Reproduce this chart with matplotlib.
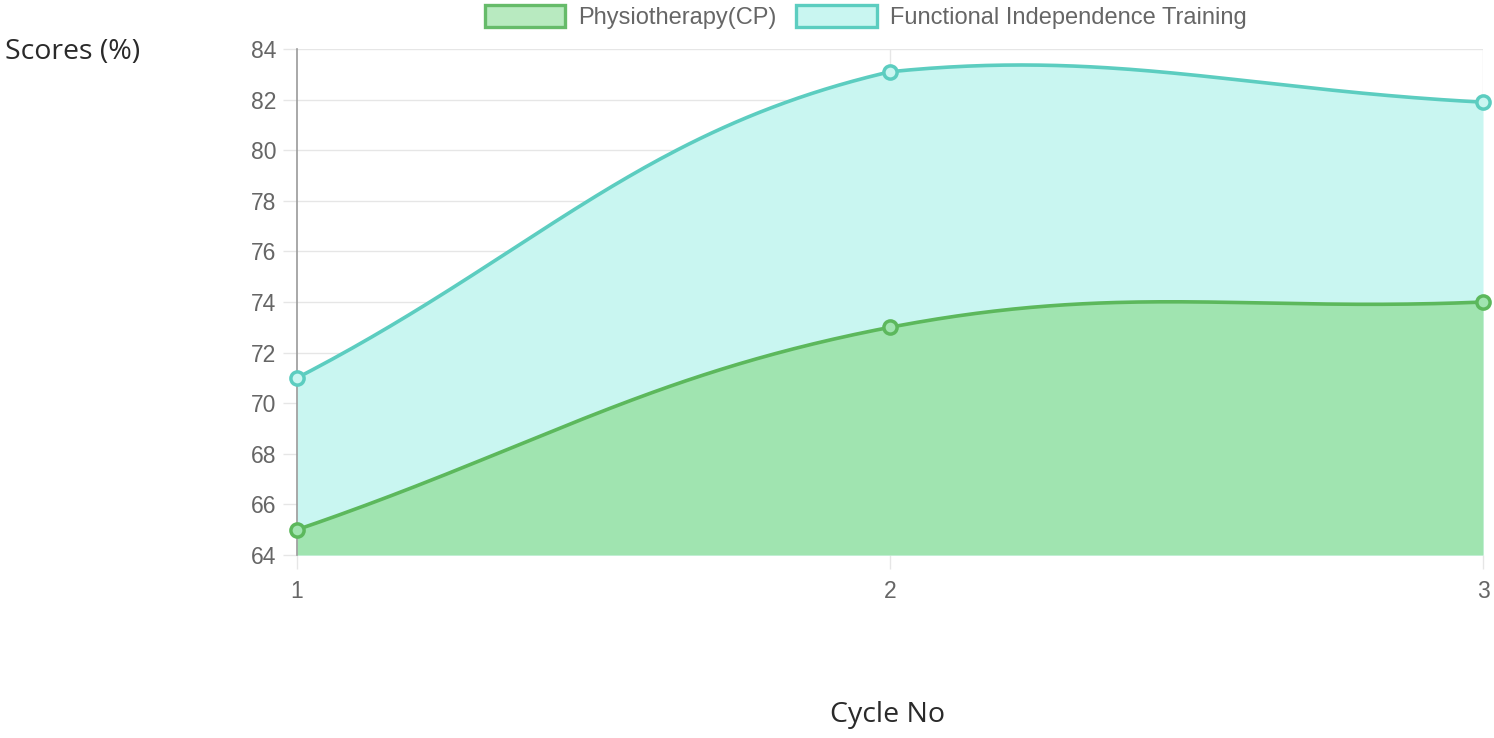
import numpy as np
import matplotlib
matplotlib.use("Agg")
import matplotlib.pyplot as plt
from matplotlib.patches import Patch

# ---------------------------------------------------------------------------
# Data
# ---------------------------------------------------------------------------
cycles = [1, 2, 3]
physio = [65, 73, 74]
fit_scores = [71, 83.1, 81.9]
series_labels = ["Physiotherapy(CP)", "Functional Independence Training"]
y_ticks = [64, 66, 68, 70, 72, 74, 76, 78, 80, 82, 84]

GREEN_LINE = "#5cb85c"
GREEN_FILL = "#a0e4b0"
TEAL_LINE = "#5ccdc0"
TEAL_FILL = "#c9f6f1"
TICK_GREY = "#666666"
GRID_GREY = "#e6e6e6"

plt.rcParams["font.family"] = ["Liberation Sans", "DejaVu Sans"]


def chartjs_curve(ax, xs, ys, tension=0.4, n=100):
    """Chart.js style bezier (splineCurve + capBezierPoints) in pixel space."""
    pts = ax.transData.transform(np.column_stack([xs, ys]))
    bb = ax.bbox
    m = len(pts)
    cp_prev, cp_next = [], []
    for i in range(m):
        prev = pts[i - 1] if i > 0 else pts[i]
        cur = pts[i]
        nxt = pts[i + 1] if i < m - 1 else pts[i]
        d01 = np.hypot(*(cur - prev))
        d12 = np.hypot(*(nxt - cur))
        tot = d01 + d12
        s01 = d01 / tot if tot else 0
        s12 = d12 / tot if tot else 0
        a = cur - tension * s01 * (nxt - prev)
        b = cur + tension * s12 * (nxt - prev)
        # keep control points inside the chart area
        for c in (a, b):
            c[0] = np.clip(c[0], bb.x0, bb.x1)
            c[1] = np.clip(c[1], bb.y0, bb.y1)
        cp_prev.append(a)
        cp_next.append(b)
    t = np.linspace(0, 1, n)[:, None]
    out = []
    for i in range(m - 1):
        p0, p1, p2, p3 = pts[i], cp_next[i], cp_prev[i + 1], pts[i + 1]
        seg = ((1 - t) ** 3) * p0 + 3 * ((1 - t) ** 2) * t * p1 + 3 * (1 - t) * t ** 2 * p2 + t ** 3 * p3
        out.append(seg if i == 0 else seg[1:])
    out = np.vstack(out)
    data = ax.transData.inverted().transform(out)
    return data[:, 0], data[:, 1]


fig = plt.figure(figsize=(14.94, 7.38), dpi=100)
ax = fig.add_axes([297 / 1494, 1 - 555 / 738, (1483 - 297) / 1494, (555 - 49) / 738])
ax.set_xlim(1, 3)
ax.set_ylim(64, 84)

# grid
for yv in y_ticks:
    ax.axhline(yv, color=GRID_GREY, lw=1, zorder=0)
for xv in cycles[1:]:
    ax.axvline(xv, color=GRID_GREY, lw=1, zorder=0)

tx, ty = chartjs_curve(ax, cycles, fit_scores)
gx, gy = chartjs_curve(ax, cycles, physio)

ax.fill_between(tx, ty, 64, color=TEAL_FILL, lw=0, zorder=1)
ax.fill_between(gx, gy, 64, color=GREEN_FILL, lw=0, zorder=2)
ax.plot(tx, ty, color=TEAL_LINE, lw=2.6, zorder=3, clip_on=False, solid_capstyle="round")
ax.plot(gx, gy, color=GREEN_LINE, lw=2.6, zorder=3, clip_on=False, solid_capstyle="round")
ax.plot(cycles, fit_scores, "o", ms=9.5, mfc=TEAL_FILL, mec=TEAL_LINE, mew=2.5, zorder=4, clip_on=False)
ax.plot(cycles, physio, "o", ms=9.5, mfc=GREEN_FILL, mec=GREEN_LINE, mew=2.5, zorder=4, clip_on=False)

for side in ["top", "right", "bottom"]:
    ax.spines[side].set_visible(False)
ax.spines["left"].set_color("#9a9a9a")
ax.spines["left"].set_linewidth(1.2)
ax.spines["left"].set_bounds(64, 84)

ax.set_yticks(y_ticks)
ax.set_xticks(cycles)
ax.set_xticklabels([str(c) for c in cycles])
ax.tick_params(axis="both", colors=GRID_GREY, labelcolor=TICK_GREY, labelsize=16.5, length=10, width=1)
ax.tick_params(axis="y", pad=5)
ax.tick_params(axis="x", pad=8)
ax.get_xticklines()[0].set_color("#9a9a9a")

fig.text(5 / 1494, 1 - 52 / 738, "Scores (%)", fontsize=20.5, family=["Open Sans", "DejaVu Sans"],
         color="#2a2a2a", ha="left", va="center")
fig.text(888 / 1494, 1 - 715 / 738, "Cycle No", fontsize=20.5, family=["Open Sans", "DejaVu Sans"],
         color="#2a2a2a", ha="center", va="center")

handles = [
    Patch(facecolor="#b8eac0", edgecolor="#66bb6a", lw=2.4),
    Patch(facecolor=TEAL_FILL, edgecolor=TEAL_LINE, lw=2.4),
]
fig.legend(handles, series_labels, loc="center", bbox_to_anchor=(865.5 / 1494, 1 - 17 / 738), ncol=2,
           frameon=False, fontsize=17, labelcolor=TICK_GREY, handlelength=3.4, handleheight=1.05,
           handletextpad=0.55, columnspacing=0.85, borderpad=0.0, borderaxespad=0.0)

fig.savefig("out.png", dpi=100)
